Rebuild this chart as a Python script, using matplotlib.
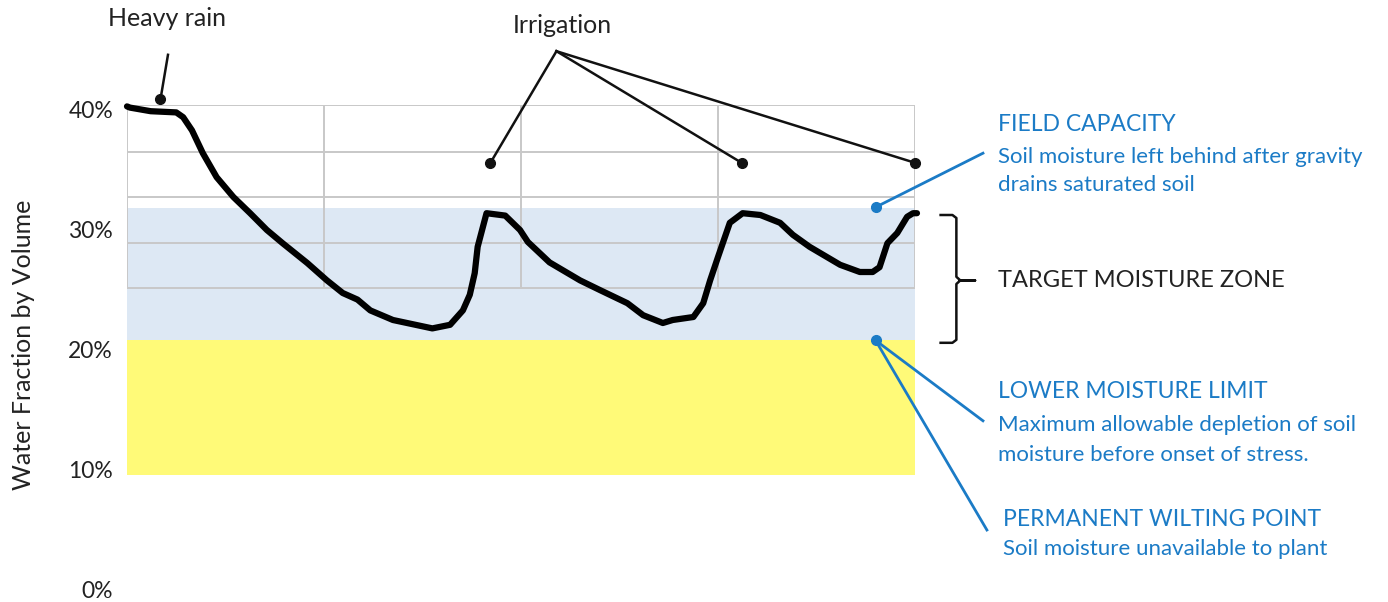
import matplotlib
matplotlib.use("Agg")
import matplotlib.pyplot as plt

# soil moisture trace: day vs water fraction (%)
days = [0.0, 0.15, 1.2, 2.5, 2.85, 3.3, 3.85, 4.55, 5.4, 6.25, 7.1, 7.9, 9.15,
        10.15, 10.95, 11.7, 12.35, 13.5, 15.5, 16.4, 17.05, 17.4, 17.65, 17.8,
        18.25, 19.2, 19.95, 20.35, 21.45, 23.0, 24.0, 25.4, 26.2, 27.2, 27.7,
        28.75, 29.25, 29.6, 30.0, 30.6, 31.25, 32.15, 33.15, 33.8, 34.65, 36.2,
        37.2, 37.85, 38.2, 38.6, 39.1, 39.6, 39.9, 40.1]
moisture = [40.3, 40.2, 39.9, 39.8, 39.4, 38.3, 36.4, 34.4, 32.75, 31.4, 30.0,
            28.9, 27.25, 25.8, 24.75, 24.2, 23.3, 22.5, 21.8, 22.1, 23.3, 24.6,
            26.4, 28.6, 31.4, 31.2, 30.0, 29.0, 27.3, 25.8, 25.0, 23.9, 22.9,
            22.25, 22.5, 22.75, 23.9, 25.8, 27.75, 30.6, 31.4, 31.25, 30.6,
            29.6, 28.6, 27.1, 26.5, 26.5, 26.9, 28.9, 29.75, 31.1, 31.4, 31.4]

field_capacity = 31.8
lower_limit = 20.8
wilting_point = 9.6

grid_y = [40.4, 36.5, 32.75, 28.9, 25.2]
grid_x = [0, 10, 20, 30, 40]

heavy_rain = (1.7, 40.9)
irrigation_days = [18.45, 31.2, 40.0]
irrigation_level = 35.6

y_ticks = [0, 10, 20, 30, 40]
y_labels = ["0%", "10%", "20%", "30%", "40%"]

plt.rcParams['font.family'] = ['Lato', 'DejaVu Sans']
blue = '#1b7bc6'
black = '#111111'
dark = '#222222'

fig = plt.figure(figsize=(13.88, 6.02), dpi=100)
ax = fig.add_axes([127 / 1388, 12 / 602, 788 / 1388, 485 / 602])
ax.set_xlim(0, 40)
ax.set_ylim(0, 485 / 12)
for s in ax.spines.values():
    s.set_visible(False)
ax.set_xticks([])
ax.set_yticks(y_ticks)
ax.set_yticklabels(y_labels, fontsize=16.5, color=dark)
ax.tick_params(axis='y', length=0, pad=10)

# zones
ax.fill_between([0, 40], lower_limit, field_capacity, color='#dde8f4', lw=0, zorder=1)
ax.fill_between([0, 40], wilting_point, lower_limit, color='#fffa78', lw=0, zorder=1)

# grid
for gy in grid_y:
    ax.plot([0, 40], [gy, gy], color='#c8c8c8', lw=1.4, zorder=2)
for gx in grid_x:
    ax.plot([gx, gx], [grid_y[-1], grid_y[0]], color='#c8c8c8', lw=1.4, zorder=2)

ax.plot(days, moisture, color='black', lw=4.5, solid_joinstyle='round',
        solid_capstyle='round', zorder=4, clip_on=False)

# heavy rain callout
ax.plot([heavy_rain[0], 2.08], [heavy_rain[1], 44.6], color=black, lw=1.8, clip_on=False, zorder=5)
ax.plot(*heavy_rain, 'o', color=black, ms=7, clip_on=False, zorder=5)
ax.text(2.03, 47.6, "Heavy rain", fontsize=18, ha='center', va='center', color=dark)

# irrigation callouts
for d in irrigation_days:
    ax.plot([21.8, d], [44.9, irrigation_level], color=black, lw=1.8, clip_on=False, zorder=5)
    ax.plot(d, irrigation_level, 'o', color=black, ms=7, clip_on=False, zorder=5)
ax.text(22.1, 47.0, "Irrigation", fontsize=18, ha='center', va='center', color=dark)

# field capacity
ax.plot([38.0, 43.45], [field_capacity + 0.1, 36.4], color=blue, lw=2, clip_on=False, zorder=5)
ax.plot(38.0, field_capacity + 0.1, 'o', color=blue, ms=7, clip_on=False, zorder=5)
ax.text(44.2, 38.75, "FIELD CAPACITY", fontsize=16.5, color=blue, va='center')
ax.text(44.2, 36.1, "Soil moisture left behind after gravity", fontsize=16, color=blue, va='center')
ax.text(44.2, 33.75, "drains saturated soil", fontsize=16, color=blue, va='center')

# lower limit / wilting point
ax.plot([38.0, 43.45], [lower_limit, 14.1], color=blue, lw=2, clip_on=False, zorder=5)
ax.plot([38.0, 43.65], [lower_limit, 5.0], color=blue, lw=2, clip_on=False, zorder=5)
ax.plot(38.0, lower_limit, 'o', color=blue, ms=7, clip_on=False, zorder=5)
ax.text(44.2, 16.5, "LOWER MOISTURE LIMIT", fontsize=16.5, color=blue, va='center')
ax.text(44.2, 13.75, "Maximum allowable depletion of soil", fontsize=16, color=blue, va='center')
ax.text(44.2, 11.25, "moisture before onset of stress.", fontsize=16, color=blue, va='center')
ax.text(44.45, 5.9, "PERMANENT WILTING POINT", fontsize=16.5, color=blue, va='center')
ax.text(44.45, 3.4, "Soil moisture unavailable to plant", fontsize=16, color=blue, va='center')

# bracket for target zone
bx = [41.3, 41.9, 42.1, 42.1, 42.3, 43.05, 42.3, 42.1, 42.1, 41.9, 41.3]
by = [31.25, 31.25, 31.0, 26.1, 25.8, 25.8, 25.8, 25.5, 20.85, 20.6, 20.6]
ax.plot(bx, by, color=black, lw=1.8, clip_on=False, zorder=5)
ax.text(44.2, 25.8, "TARGET MOISTURE ZONE", fontsize=17, color=dark, va='center')

fig.text(24 / 1388, 1 - 345 / 602, "Water Fraction by Volume", rotation=90,
         fontsize=18, ha='center', va='center', color=dark)

fig.savefig("out.png", dpi=100)
